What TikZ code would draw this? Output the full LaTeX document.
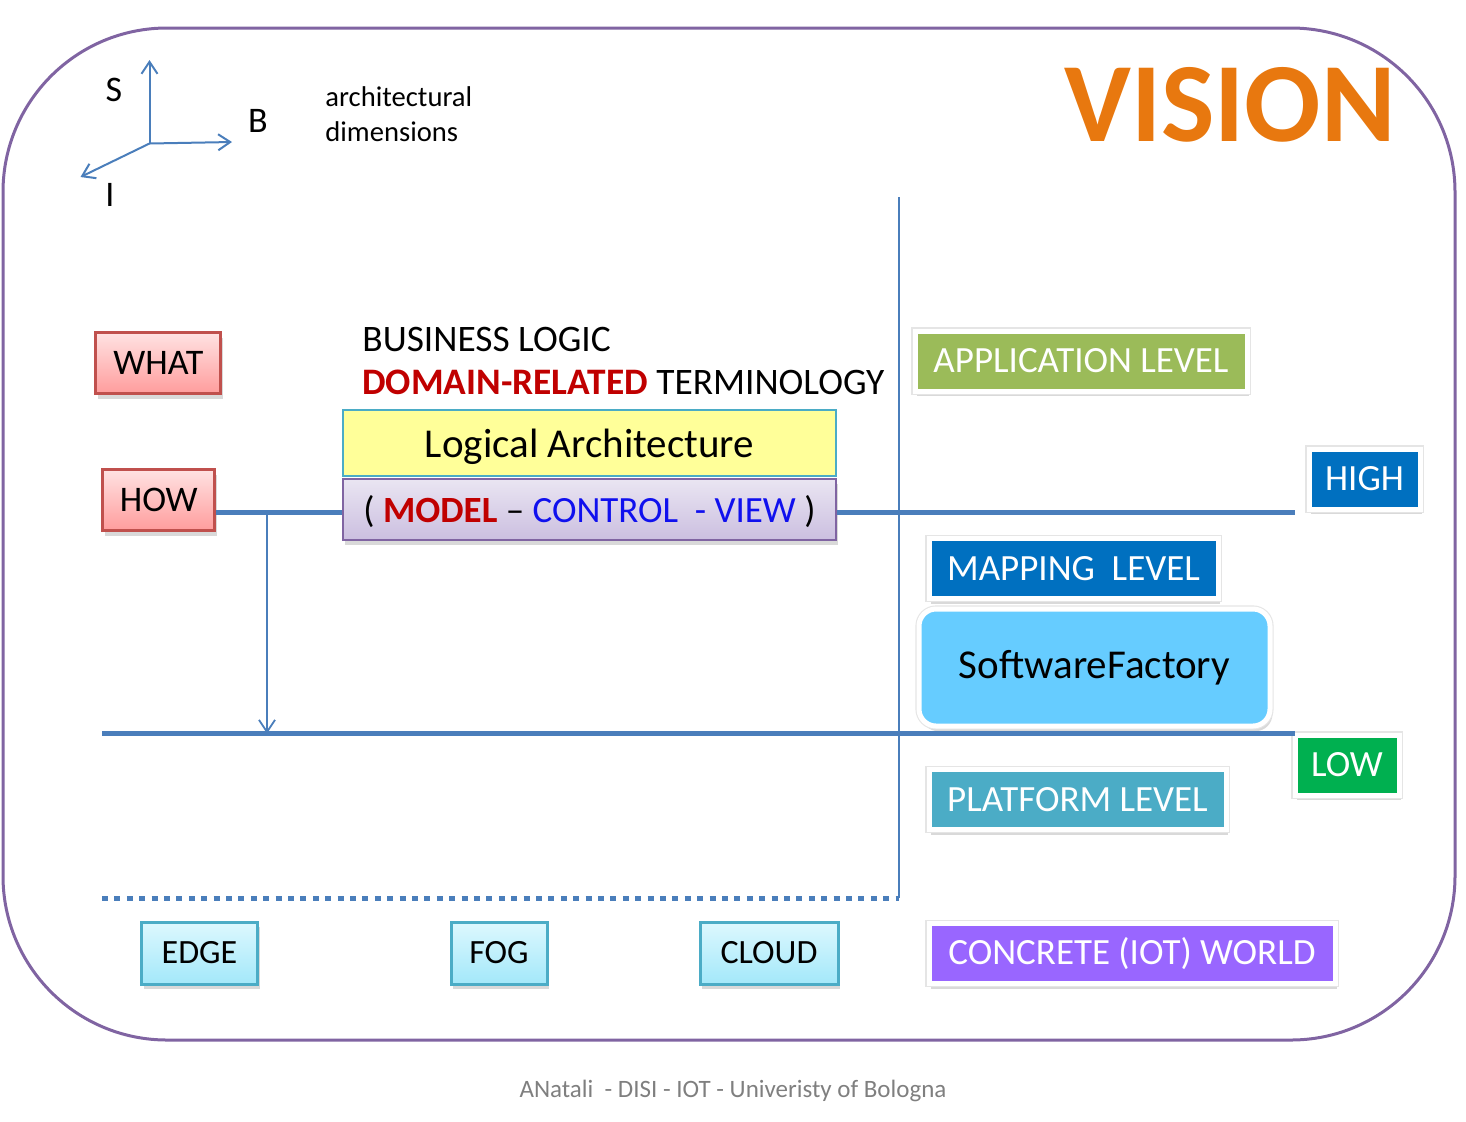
\documentclass[tikz,border=0pt]{standalone}
\usepackage{fontspec}
\setmainfont{Carlito}
\usepackage{tikz}
\usetikzlibrary{arrows.meta, positioning, shadows}

\definecolor{framepurple}{HTML}{8064A2}
\definecolor{axisblue}{HTML}{4A7EBB}
\definecolor{qred}{HTML}{C0504D}
\definecolor{qtop}{HTML}{FFE2E2}
\definecolor{qbot}{HTML}{FF9C9C}
\definecolor{logyellow}{HTML}{FFFF99}
\definecolor{logborder}{HTML}{4BACC6}
\definecolor{mvctop}{HTML}{EAE5F2}
\definecolor{mvcbot}{HTML}{CBBFE0}
\definecolor{domred}{HTML}{C00000}
\definecolor{mvcblue}{HTML}{1010EE}
\definecolor{appgreen}{HTML}{9BBB59}
\definecolor{lvlblue}{HTML}{0070C0}
\definecolor{factoryblue}{HTML}{66CCFF}
\definecolor{lowgreen}{HTML}{00B050}
\definecolor{platcyan}{HTML}{4BACC6}
\definecolor{iotviolet}{HTML}{9966FF}
\definecolor{sitetop}{HTML}{DDF8FE}
\definecolor{sitebot}{HTML}{A3E8FA}
\definecolor{visionorange}{HTML}{E8780F}
\definecolor{footgray}{HTML}{7F7F7F}

\tikzset{
  softshadow/.style={drop shadow={opacity=0.3, shadow xshift=1.2pt, shadow yshift=-2.6pt}},
  axis/.style={draw=axisblue, line width=1pt, -{Straight Barb[length=6pt,width=8pt]}},
  levelline/.style={draw=axisblue, line width=2.5pt},
  qbox/.style={draw=qred, line width=1.5pt, top color=qtop, bottom color=qbot,
    minimum width=#1, minimum height=30.5pt, inner sep=0pt,
    font=\fontsize{18}{21}\selectfont, softshadow},
  tagbox/.style={fill=#1, draw=white, line width=2.5pt, text=white, inner sep=0pt,
    minimum height=30pt, font=\fontsize{18.5}{21}\selectfont, softshadow,
    preaction={draw=black!10, line width=3.6pt}},
  sitebox/.style={draw=logborder, line width=1.5pt, top color=sitetop, bottom color=sitebot,
    minimum width=#1, minimum height=31pt, inner sep=0pt,
    font=\fontsize{17}{20}\selectfont, softshadow},
}

\begin{document}
\begin{tikzpicture}[x=0.5pt, y=-0.5pt]
  \useasboundingbox (0,0) rectangle (1466,1121);
  \draw[framepurple, line width=1.5pt, rounded corners=82pt] (3,28) rectangle (1455,1040);

  \coordinate (orig) at (149.5,143.5);
  \coordinate (stip) at (149.5,60);
  \coordinate (btip) at (232,142);
  \coordinate (itip) at (80.5,177);
  \draw[axis] (orig) -- (stip);
  \draw[axis] (orig) -- (btip);
  \draw[axis] (orig) -- (itip);
  \node[font=\fontsize{18}{21}\selectfont] (slbl) at (114,90) {S};
  \node[font=\fontsize{18}{21}\selectfont] (blbl) at (258,121) {B};
  \node[font=\fontsize{18}{21}\selectfont] (ilbl) at (110,195) {I};
  \node[anchor=west, align=left, inner sep=0pt, font=\fontsize{14.3}{17.3}\selectfont] (dims) at (325,114) {architectural\\dimensions};

  \node[text=visionorange, font=\fontsize{56.5}{60}\selectfont\bfseries] (vision) at (1230,104.5) {VISION};

  \node[qbox=62.5pt] (what) at (158.3,363.3) {WHAT};
  \node[qbox=56pt] (how) at (158.8,500.3) {HOW};

  \node[anchor=base west, inner sep=0pt, font=\fontsize{18.7}{22}\selectfont] (busl) at (362,351) {BUSINESS LOGIC};
  \node[anchor=base west, inner sep=0pt, font=\fontsize{18.7}{22}\selectfont] (term) at (362,394) {\textbf{\color{domred}DOMAIN-RELATED} TERMINOLOGY};

  \node[draw=logborder, line width=1pt, fill=logyellow, minimum width=246.5pt, minimum height=33pt, inner sep=0pt,
    text height=14pt, text depth=0pt, font=\fontsize{20.5}{24}\selectfont] (logarch) at (589.5,443) {Logical Architecture};
  \node[draw=framepurple, line width=1pt, top color=mvctop, bottom color=mvcbot, minimum width=246.5pt, minimum height=30.5pt,
    inner sep=0pt, text height=12.5pt, text depth=0pt, font=\fontsize{18.5}{22}\selectfont, softshadow] (mvc) at (589.5,509.5)
    {( \textbf{\color{domred}MODEL} -- {\color{mvcblue}CONTROL\ \ - VIEW} )};

  \node[tagbox=appgreen, minimum width=166pt] (applvl) at (1081,361) {APPLICATION LEVEL};
  \node[tagbox=lvlblue, minimum width=55.5pt] (high) at (1364.5,479) {HIGH};
  \node[tagbox=lvlblue, minimum width=144.5pt] (maplvl) at (1073.5,568.5) {MAPPING\ \ LEVEL};
  \node[fill=factoryblue, draw=white, line width=2.5pt, rounded corners=8.5pt, minimum width=175.5pt, minimum height=58.5pt,
    inner sep=0pt, font=\fontsize{20.5}{24}\selectfont, softshadow,
    preaction={draw=black!10, line width=3.6pt}] (factory) at (1094.5,667.5) {SoftwareFactory};
  \node[tagbox=lowgreen, minimum width=52pt] (low) at (1347,765) {LOW};
  \node[tagbox=platcyan, minimum width=148.5pt] (platlvl) at (1077.5,799.5) {PLATFORM LEVEL};
  \node[tagbox=iotviolet, minimum width=203pt] (iotworld) at (1132,953.5) {CONCRETE (IOT) WORLD};

  \node[sitebox=58pt] (edge) at (199.5,953) {EDGE};
  \node[sitebox=48pt] (fog) at (499,953) {FOG};
  \node[sitebox=69pt] (cloud) at (769,953) {CLOUD};

  \coordinate (hiend) at (1295,512);
  \coordinate (lostart) at (102,733.5);
  \coordinate (loend) at (1295,733.5);
  \coordinate (drop) at (267,512);
  \coordinate (dotstart) at (102,898);
  \coordinate (dotend) at (899,898);
  \coordinate (vtop) at (899,197);
  \draw[levelline] (how.east |- hiend) -- (mvc.west |- hiend);
  \draw[levelline] (mvc.east |- hiend) -- (hiend);
  \draw[levelline] (lostart) -- (loend);
  \draw[axis, line width=0.9pt] (drop) -- (drop |- loend);
  \draw[axisblue, line width=2.5pt, dash pattern=on 3pt off 3.2pt] (dotstart) -- (dotend);
  \draw[axisblue, line width=0.8pt] (vtop) -- (dotend);

  \node[text=footgray, font=\fontsize{12.5}{15}\selectfont] (foot) at (733,1091) {ANatali \ - DISI - IOT - Univeristy of Bologna};
\end{tikzpicture}
\end{document}
